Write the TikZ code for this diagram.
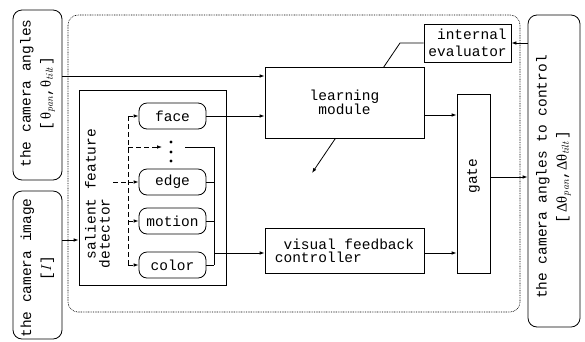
\documentclass[tikz,border=0pt]{standalone}
\usepackage{fontspec}
\setmonofont{Liberation Mono}
\newfontfamily\grk{Liberation Serif}
\usetikzlibrary{arrows.meta,calc}
\newcommand{\gth}{{\grk θ}}
\newcommand{\gdth}{{\grk Δθ}}
\begin{document}
\begin{tikzpicture}[x=1pt,y=-1pt,
  every node/.style={font=\ttfamily\fontsize{14.5}{13}\selectfont, inner sep=0pt},
  blk/.style={draw, line width=0.8pt, fill=white},
  rbox/.style={blk, rounded corners=9pt},
  fbox/.style={blk, rounded corners=8pt, minimum width=67pt, minimum height=26pt},
  tip/.style={-{Latex[length=5pt,width=3.6pt]}},
  ln/.style={line width=0.8pt},
  arr/.style={ln, tip},
  dsh/.style={line width=0.8pt, dash pattern=on 5pt off 3pt},
  darr/.style={dsh, tip},
  vtext/.style={rotate=90, align=center},
  sub/.style={},
]
\useasboundingbox (0,0) rectangle (585,341);

% outer dotted frame of the controller
\draw[line width=0.6pt, dash pattern=on 0.8pt off 0.9pt, rounded corners=10pt] (68,15) rectangle (520,312);

% input and output terminals
\node[rbox, minimum width=49pt, minimum height=170pt] (ang) at (37.5,95) {};
\node[vtext, font=\ttfamily\fontsize{14.5}{20}\selectfont] (angtxt) at (37.5,93.5)
  {the camera angles\\ {[}\,\gth$_{\mathit{pan}}$,\gth$_{\mathit{tilt}}$\,{]}};
\node[rbox, minimum width=49pt, minimum height=148pt] (img) at (37.5,265) {};
\node[vtext, font=\ttfamily\fontsize{14.5}{20}\selectfont] (imgtxt) at (37.5,268)
  {the camera image\\ {[}$I${]}};
\node[rbox, minimum width=52pt, minimum height=312pt] (out) at (554,171) {};
\node[vtext, font=\ttfamily\fontsize{14.5}{20}\selectfont] (outtxt) at (553.5,177)
  {the camera angles to control\\ {[}\,\gdth$_{\mathit{pan}}$,\gdth$_{\mathit{tilt}}$\,{]}};

% evaluator and its teaching signal crossing the learning module
\node[blk, minimum width=87pt, minimum height=38pt, align=left,
      font=\ttfamily\fontsize{14.5}{16.5}\selectfont] (eval) at (467.5,43)
  {\ internal\\evaluator};
\coordinate (bend) at (400,43);
\coordinate (teach) at (312,173);
\draw[arr] (eval.west) -- (bend) -- (teach);

% processing blocks
\node[blk, minimum width=159pt, minimum height=71pt, align=center] (learn) at (344.5,102.5)
  {learning\\module};
\node[blk, minimum width=159pt, minimum height=45pt, align=left] (vfc) at (344.5,250.5)
  {\ visual feedback\\controller};
\node[blk, minimum width=33pt, minimum height=179pt] (gate) at (473.5,183.5) {};
\node[rotate=90] (gatetxt) at (473.5,176) {gate};

% salient feature detector
\node[blk, minimum width=147pt, minimum height=195pt] (sfd) at (152.5,187.5) {};
\node[rotate=90, align=left, font=\ttfamily\fontsize{14.5}{14}\selectfont] (sfdtxt) at (97.5,198.5)
  {\ salient feature\\detector};
\node[fbox] (face) at (172.5,116) {face};
\node[fbox] (edge) at (172.5,182) {edge};
\node[fbox] (motion) at (172.5,221) {motion};
\node[fbox] (color) at (172.5,265) {color};
\coordinate (dots) at (171,152);
\foreach \dy in {-10,0,9} \fill ($(dots)+(0,\dy)$) circle (1.6pt);
\coordinate (dotsin) at (162,147);
\coordinate (dotsout) at (185,147);

% dashed fan-out to the feature channels
\coordinate (din) at (113,182);
\coordinate (trunk) at (128,182);
\draw[dsh] (din) -- (trunk);
\draw[dsh] (trunk |- face.west) -- (trunk |- color.west);
\draw[darr] (trunk |- face.west) -- (face.west);
\draw[darr] (trunk |- dotsin) -- (dotsin);
\draw[darr] (trunk) -- (edge.west);
\draw[darr] (trunk |- motion.west) -- (motion.west);
\draw[darr] (trunk |- color.west) -- (color.west);

% feature bus towards the visual feedback controller
\coordinate (bus) at (214,147);
\coordinate (yV) at (0,253);
\draw[ln] (dotsout) -- (bus) -- (bus |- color.east);
\draw[ln] (edge.east) -- (edge.east -| bus);
\draw[ln] (motion.east) -- (motion.east -| bus);
\draw[ln] (color.east) -- (color.east -| bus);
\draw[arr] (bus |- yV) -- (vfc.west |- yV);

% signal flow between blocks
\coordinate (yA) at (0,76);
\coordinate (yB) at (0,240);
\coordinate (yC) at (0,115);
\coordinate (yD) at (0,177);
\draw[arr] (ang.east |- yA) -- (learn.west |- yA);
\draw[arr] (face.east) -- (face.east -| learn.west);
\draw[arr] (img.east |- yB) -- (sfd.west |- yB);
\draw[arr] (learn.east |- yC) -- (gate.west |- yC);
\draw[arr] (vfc.east |- yV) -- (gate.west |- yV);
\draw[arr] (gate.east |- yD) -- (out.west |- yD);
\draw[arr] (out.west |- eval.east) -- (eval.east);
\end{tikzpicture}
\end{document}
